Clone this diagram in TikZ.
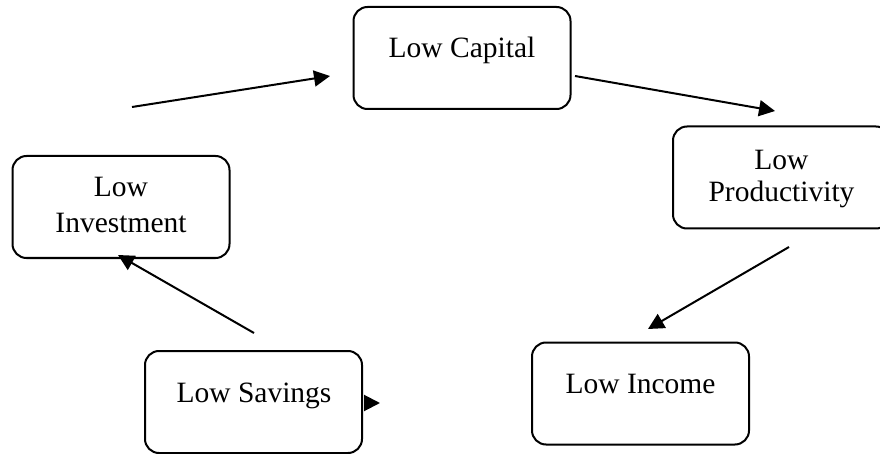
\documentclass[tikz,border=0pt]{standalone}
\usepackage{fontspec}
\setmainfont{Liberation Serif}
\usetikzlibrary{arrows.meta}
\begin{document}
\begin{tikzpicture}[x=1pt,y=-1pt,
  cyclebox/.style={draw,line width=2pt,rounded corners=14pt,minimum width=217pt,minimum height=102pt,inner sep=0pt},
  lbl/.style={anchor=base,inner sep=0pt,font=\fontsize{29.5}{34}\selectfont},
  conn/.style={line width=2pt,-{Triangle[length=16pt,width=16pt]}}]
\useasboundingbox (0,0) rectangle (880,454);
\clip (0,0) rectangle (880,454);
% boxes
\node[cyclebox] (cap) at (462,58) {};
\node[cyclebox] (prod) at (781.5,177.5) {};
\node[cyclebox] (inv) at (121,207) {};
\node[cyclebox] (sav) at (253.5,402) {};
\node[cyclebox] (inc) at (640.5,393.5) {};
% labels
\node[lbl] (capt) at (462,58) {Low Capital};
\node[lbl] (prodt1) at (781.5,170) {Low};
\node[lbl] (prodt2) at (781.5,202) {Productivity};
\node[lbl] (invt1) at (121,197) {Low};
\node[lbl] (invt2) at (121,233) {Investment};
\node[lbl] (savt) at (254,402) {Low Savings};
\node[lbl] (inct) at (640.5,393) {Low Income};
% connector end points
\coordinate (a1) at (132,107);
\coordinate (b1) at (330,76);
\coordinate (a2) at (575,76);
\coordinate (b2) at (775,111);
\coordinate (a3) at (789,247);
\coordinate (b3) at (648,329);
\coordinate (a4) at (254,333);
\coordinate (b4) at (118,255);
\coordinate (a5) at (364,403);
\coordinate (b5) at (380,403);
% connectors
\draw[conn] (a1) -- (b1);
\draw[conn] (a2) -- (b2);
\draw[conn] (a3) -- (b3);
\draw[conn] (a4) -- (b4);
\draw[conn] (a5) -- (b5);
\end{tikzpicture}
\end{document}
